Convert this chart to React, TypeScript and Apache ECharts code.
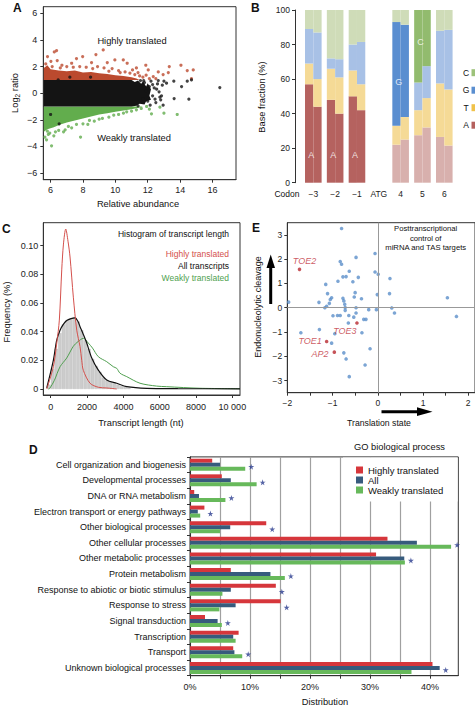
import React, { useEffect, useRef } from "react";
import * as echarts from "echarts";

const FONT = "'Liberation Sans', Arial, Helvetica, sans-serif";

// ---------- Panel A : MA plot ----------
const aBlackBand = [[5.58,-1],[5.58,1],[11.0,1],[11.2,0.85],[11.4,0.95],[11.6,0.7],[11.7,0.9],[11.9,0.5],[12.0,0.75],[12.2,0.3],[12.1,-0.2],[12.2,-0.5],[11.9,-0.6],[11.8,-0.85],[11.5,-0.8],[11.3,-0.95],[11.0,-1]];
const aRedBand = [[5.58,1],[5.58,1.9],[5.8,2.1],[6.0,1.8],[6.5,1.7],[7.0,1.65],[7.5,1.7],[8.0,1.55],[8.5,1.6],[9.0,1.5],[9.5,1.45],[10.0,1.35],[10.5,1.3],[11.0,1.2],[11.3,1.1],[11.5,1.0]];
const aGreenBand = [[5.58,-1],[11.7,-1],[11.5,-1.08],[11.0,-1.2],[10.5,-1.3],[10.0,-1.4],[9.5,-1.5],[9.0,-1.6],[8.5,-1.75],[8.0,-1.9],[7.5,-2.05],[7.0,-2.2],[6.6,-2.35],[6.2,-2.55],[5.8,-2.7],[5.58,-2.9]];
const aRedPoints = [[5.81,2.75],[6.23,3.1],[6.37,3.2],[6.02,2.4],[6.41,2.45],[7.3,2.25],[7.98,2.75],[8.53,2.3],[8.8,2.9],[9.25,3.25],[9.5,2.3],[9.97,2.5],[10.49,2.5],[11.06,1.75],[11.3,1.9],[11.88,2.1],[12.03,1.75],[12.65,1.6],[13.33,2.0],[13.27,1.55],[14.05,2.1],[14.44,1.7],[14.81,1.75],[14.7,1.1],[12.95,1.4],[12.34,1.25],[10.73,2.25],[7.6,2.6],[5.7,2.2],[6.7,2.1],[7.0,2.0],[7.8,2.0],[8.2,1.95],[8.9,2.0],[9.3,1.9],[9.8,1.85],[10.2,1.7],[10.6,1.6],[10.9,1.5],[11.2,1.4],[11.5,1.3],[11.7,1.2],[12.1,1.1],[11.4,1.55],[6.1,2.0],[6.6,1.9],[7.4,1.95],[8.6,1.85],[9.6,1.65],[10.3,1.55],[11.9,1.35],[12.5,1.1]];
const aGreenPoints = [[5.65,-3.3],[5.75,-3.5],[5.86,-3.1],[6.06,-3.95],[5.95,-3.0],[6.3,-2.9],[6.5,-2.8],[6.9,-2.75],[7.3,-2.6],[7.85,-3.3],[8.0,-2.3],[8.3,-2.35],[8.7,-2.1],[9.2,-1.9],[9.6,-1.8],[10.2,-1.6],[10.7,-1.4],[11.3,-1.25],[11.93,-1.0],[12.23,-1.55],[12.75,-1.05],[13.0,-1.5],[13.82,-1.6],[12.1,-1.2],[7.1,-2.5],[7.6,-2.35],[8.4,-2.05],[9.0,-1.95],[9.9,-1.65],[10.5,-1.5],[11.0,-1.35],[11.6,-1.15],[6.2,-3.2],[6.8,-2.9],[5.8,-2.85]];
const aBlackPoints = [[11.6,0.6],[11.7,-0.4],[11.8,0.8],[11.9,0.2],[12.0,-0.6],[12.1,0.5],[12.2,0.9],[12.3,-0.2],[12.4,0.4],[12.5,-0.7],[12.6,0.7],[12.7,0.1],[12.8,-0.5],[12.9,0.6],[13.0,0.9],[12.85,-0.2],[12.65,0.95],[12.45,-0.45],[12.15,-0.9],[11.75,0.95],[13.16,0.75],[13.61,0.9],[14.09,0.5],[13.63,-0.4],[14.54,-0.45],[14.44,0.9],[14.7,1.0],[16.45,0.42],[6.47,1.0],[7.19,1.2],[8.47,1.2],[6.0,-1.6],[6.53,-2.3],[11.4,-0.95],[11.55,0.95],[12.95,-0.9],[12.3,0.65],[12.55,0.3],[12.75,-0.3]];
const aXTicks = [6, 8, 10, 12, 14, 16];
const aYTicks = [-6, -4, -2, 0, 2, 4, 6];

// ---------- Panel B : base fractions ----------
const codons = ["\u22123", "\u22122", "\u22121", "ATG", "4", "5", "6"];
// cumulative tops (A, A+T, A+T+G) for the left and right sub-columns
const bA_L = [57, 48, 50, null, 22, 27.5, 26.5];
const bT_L = [69, 66, 65, null, 33, 42, 57.5];
const bG_L = [89, 72, 80, null, 93, 58, 88];
const bA_R = [44, 40, 42, null, 25, 32, 21.5];
const bT_R = [60, 61, 57, null, 38, 49, 54];
const bG_R = [87, 71.5, 81.5, null, 91.5, 67.5, 88.5];
const bHighlight: Record<string, number[]> = { A: [0, 1, 2], T: [], G: [4], C: [5] };
const bLabelCodon = [0, 1, 2, 4, 5];
const bLabelValue = [16, 16, 16, 58.5, 81.6];
const bLabelText = ["A", "A", "A", "G", "C"];
const bLegend = ["C", "G", "T", "A"];

// ---------- Panel C : transcript length ----------
const cRed = [[-220,0],[143,0.0155],[330,0.032],[473,0.048],[605,0.083],[700,0.101],[826,0.1115],[950,0.103],[1062,0.092],[1244,0.064],[1431,0.041],[1613,0.0295],[1706,0.020],[1794,0.013],[2163,0.004],[2620,0.0012],[3082,0.0007],[3633,0]];
const cAll = [[-220,0.0007],[143,0.020],[330,0.034],[512,0.041],[693,0.045],[880,0.0477],[1117,0.049],[1337,0.0495],[1500,0.047],[1613,0.0434],[1794,0.038],[1981,0.032],[2257,0.0216],[2620,0.0132],[3082,0.0063],[3633,0.004],[4183,0.0016],[5284,0.0004],[7000,0.0002],[10420,0.0001]];
const cGreen = [[-130,0],[-40,0.0007],[200,0.006],[512,0.0155],[880,0.0216],[1244,0.0298],[1500,0.033],[1794,0.0353],[2070,0.032],[2300,0.0285],[2620,0.0225],[3082,0.019],[3446,0.0155],[3633,0.0144],[3814,0.011],[4183,0.0086],[4915,0.004],[5834,0.002],[6384,0.0016],[8218,0.0005],[10420,0.0002]];
const cHistCenters = [-100,100,300,500,700,900,1100,1300,1500,1700,1900,2100,2300,2500,2700,2900,3100,3300,3500,3700,3900,4100,4300];
const cHistValues = [0.003,0.014,0.028,0.039,0.045,0.048,0.049,0.050,0.047,0.041,0.034,0.028,0.021,0.016,0.012,0.008,0.006,0.005,0.004,0.003,0.002,0.0015,0.001];
const cXTicks = [0, 2000, 4000, 6000, 8000, 10000];
const cYTicks = [0, 0.02, 0.04, 0.06, 0.08, 0.1];

// ---------- Panel E : miRNA / TAS targets ----------
const eBlue = [[-0.80,3.26],[-1.97,0.23],[-0.06,2.23],[-0.48,2.07],[-0.83,1.90],[-0.80,1.79],[-0.63,1.50],[-0.06,1.47],[0.01,1.38],[0.27,1.20],[-0.43,1.25],[-0.77,1.27],[-0.70,1.28],[-0.88,1.09],[-0.55,1.07],[-1.15,0.96],[-1.11,0.58],[-0.50,0.62],[0.26,0.58],[-0.01,0.54],[1.54,0.41],[-1.02,0.41],[-1.05,0.34],[-0.77,0.39],[-0.52,0.44],[-0.36,0.37],[-0.75,0.28],[-1.30,0.22],[-1.07,0.18],[-1.13,0.06],[-1.17,0.0],[-0.73,0.14],[-0.72,0.01],[-0.72,-0.11],[-0.48,0.0],[-0.20,-0.08],[-0.03,-0.08],[0.31,-0.01],[0.37,-0.22],[1.74,-0.36],[-0.99,-0.33],[-0.89,-0.32],[-0.83,-0.32],[-0.64,-0.32],[-0.53,-0.39],[-0.48,-0.22],[-0.31,-0.48],[-0.26,-0.48],[-1.70,-1.03],[-1.29,-0.90],[-0.95,-1.07],[-0.35,-1.03],[-0.65,-0.63],[-1.02,-1.46],[-0.75,-1.86],[-0.70,-2.11],[-0.17,-1.69],[-0.28,-2.36],[-0.63,-2.84]];
const eNamed = ["TOE2", "TOE3", "TOE1", "AP2"];
const eNamedX = [-1.73, -0.46, -1.13, -0.96];
const eNamedY = [1.58, -0.63, -1.39, -1.83];
const eXTicks = [-2, -1.5, -1, -0.5, 0, 0.5, 1, 1.5, 2];
const eXLabels = [-2, -1, 0, 1, 2];
const eYTicks = [-3, -2, -1, 0, 1, 2, 3];

// ---------- Panel D : GO biological process ----------
const goCategories = ["Cell organization and biogenesis","Developmental processes","DNA or RNA metabolism","Electron transport or energy pathways","Other biological processes","Other cellular processes","Other metabolic processes","Protein metabolism","Response to abiotic or biotic stimulus","Response to stress","Signal transduction","Transcription","Transport","Unknown biological processes"];
const goHighly = [3.7,5.3,0.7,2.4,12.7,32.9,31.0,6.8,14.3,15.1,2.5,8.1,7.2,40.4];
const goAll = [5.0,6.8,1.5,1.3,6.7,37.8,35.7,13.4,6.8,7.6,4.6,7.2,7.4,41.6];
const goWeakly = [9.2,11.1,5.9,1.7,5.0,43.5,35.8,15.8,5.4,4.9,5.3,7.6,8.7,36.9];
const goSignificant = [1,1,1,1,1,1,1,1,1,1,1,0,1,1];
const dXTicks = [0, 5, 10, 15, 20, 25, 30, 35, 40];
const dXLabels = [0, 10, 20, 30, 40];

const minus = (v: number) => (v < 0 ? "\u2212" + Math.abs(v) : String(v));

const AX = { color: "#333", width: 1 };
const LBL = { fontFamily: FONT, color: "#222" };

function polySeries(data: number[][], color: string, idx: number) {
  return {
    type: "custom",
    xAxisIndex: idx,
    yAxisIndex: idx,
    silent: true,
    data,
    renderItem: (params: any, api: any) => {
      if (params.dataIndex !== 0) return null;
      const pts = data.map((d) => api.coord(d));
      return { type: "polygon", shape: { points: pts }, style: { fill: color } };
    },
  };
}

function txt(text: string, x: number, y: number, o: any = {}) {
  const { rotation, ...style } = o;
  return {
    type: "text",
    x,
    y,
    rotation: rotation || 0,
    z: 10,
    style: {
      text,
      fontFamily: FONT,
      fontSize: 9,
      fill: "#111",
      textAlign: "center",
      textVerticalAlign: "middle",
      ...style,
    },
  };
}

function buildOption() {
  const darkCol: Record<string, string> = { A: "#b5625f", T: "#f2cf72", G: "#5a8ed0", C: "#92bb6e" };
  const lightCol: Record<string, string> = { A: "#d8b0ad", T: "#f5da96", G: "#a8c1e6", C: "#cfdcb8" };
  const colFor = (n: string, i: number) => (bHighlight[n].includes(i) ? darkCol[n] : lightCol[n]);
  const bSeries: any[] = [];
  const sides = [
    { s: "L", A: bA_L, T: bT_L, G: bG_L },
    { s: "R", A: bA_R, T: bT_R, G: bG_R },
  ];
  for (const side of sides) {
    const parts: Record<string, (number | null)[]> = {
      A: side.A,
      T: side.T.map((v, i) => (v == null ? null : v - (side.A[i] as number))),
      G: side.G.map((v, i) => (v == null ? null : v - (side.T[i] as number))),
      C: side.G.map((v) => (v == null ? null : 100 - v)),
    };
    for (const n of ["A", "T", "G", "C"]) {
      bSeries.push({
        type: "bar",
        name: "B" + n + side.s,
        xAxisIndex: 1,
        yAxisIndex: 1,
        stack: side.s,
        barWidth: 8.3,
        barGap: "0%",
        silent: true,
        data: parts[n].map((v, i) => (v == null ? "-" : { value: v, itemStyle: { color: colFor(n, i) } })),
      });
    }
  }

  const dBar = (name: string, data: number[], color: string) => ({
    type: "bar",
    name,
    xAxisIndex: 4,
    yAxisIndex: 4,
    barWidth: 4,
    barGap: "0%",
    silent: true,
    itemStyle: { color },
    data,
  });

  const namedLabel: Record<string, any> = {
    TOE2: { position: "top", distance: 2, offset: [5, 0] },
    TOE3: { position: "bottom", distance: 2, offset: [-12, 0] },
    TOE1: { position: "left", distance: 3, offset: [0, 0] },
    AP2: { position: "left", distance: 4, offset: [0, 2] },
  };

  const starPath = "path://M50,0 L61,35 L98,35 L68,57 L79,91 L50,70 L21,91 L32,57 L2,35 L39,35 Z";

  return {
    animation: false,
    backgroundColor: "#fff",
    textStyle: { fontFamily: FONT },
    grid: [
      { left: 43.3, top: 6.7, width: 192.7, height: 173, show: true, borderColor: "#333", borderWidth: 1 },
      { left: 302.4, top: 10, width: 152.8, height: 172.7 },
      { left: 43.3, top: 222.7, width: 196.7, height: 172.3, show: true, borderColor: "#333", borderWidth: 1 },
      { left: 287.3, top: 222.7, width: 189.2, height: 170, show: true, borderColor: "#333", borderWidth: 1 },
      { left: 190, top: 456.9, width: 268.3, height: 218.8, show: true, borderColor: "#333", borderWidth: 1 },
    ],
    xAxis: [
      {
        gridIndex: 0, type: "value", min: 5.55, max: 17.45,
        axisLine: { show: true, onZero: false, lineStyle: AX },
        axisTick: { show: true, length: 3, lineStyle: AX, customValues: aXTicks },
        axisLabel: { ...LBL, fontSize: 9, margin: 6, customValues: aXTicks },
        splitLine: { show: false },
      },
      {
        gridIndex: 1, type: "category", data: codons,
        axisLine: { show: false }, axisTick: { show: false },
        axisLabel: { ...LBL, fontSize: 8.5, margin: 7, interval: 0 },
      },
      {
        gridIndex: 2, type: "value", min: -410, max: 10420,
        axisLine: { show: true, onZero: false, lineStyle: AX },
        axisTick: { show: true, length: 3, lineStyle: AX, customValues: cXTicks },
        axisLabel: { ...LBL, fontSize: 9, margin: 7, customValues: cXTicks, formatter: (v: number) => (v === 10000 ? "10 000" : String(v)) },
        splitLine: { show: false },
      },
      {
        gridIndex: 3, type: "value", min: -2, max: 2.15,
        axisLine: { show: true, onZero: false, lineStyle: AX },
        axisTick: { show: true, length: 3, lineStyle: AX, customValues: eXTicks },
        axisLabel: { ...LBL, fontSize: 8.5, margin: 6, customValues: eXLabels, formatter: (v: number) => minus(v) },
        splitLine: { show: false },
      },
      {
        gridIndex: 4, type: "value", min: 0, max: 44.7, interval: 5,
        axisLine: { show: true, onZero: false, lineStyle: AX },
        axisTick: { show: true, length: 3, lineStyle: AX, customValues: dXTicks },
        axisLabel: { ...LBL, fontSize: 9, margin: 7, customValues: dXLabels, formatter: (v: number) => v + "%" },
        splitLine: { show: true, lineStyle: { color: "#a0a0a0", width: 1.2 } },
      },
    ],
    yAxis: [
      {
        gridIndex: 0, type: "value", min: -6.5, max: 6.5,
        axisLine: { show: true, onZero: false, lineStyle: AX },
        axisTick: { show: true, length: 3, lineStyle: AX, customValues: aYTicks },
        axisLabel: { ...LBL, fontSize: 9, margin: 6, customValues: aYTicks, formatter: (v: number) => minus(v) },
        splitLine: { show: false },
      },
      {
        gridIndex: 1, type: "value", min: 0, max: 100, interval: 20, offset: 7.4,
        axisLine: { show: true, lineStyle: AX },
        axisTick: { show: true, length: 3, lineStyle: AX },
        axisLabel: { ...LBL, fontSize: 8.5, margin: 5 },
        splitLine: { show: false },
      },
      {
        gridIndex: 2, type: "value", min: -0.0042, max: 0.1159,
        axisLine: { show: true, onZero: false, lineStyle: AX },
        axisTick: { show: true, length: 3, lineStyle: AX, customValues: cYTicks },
        axisLabel: { ...LBL, fontSize: 9, margin: 5, customValues: cYTicks, formatter: (v: number) => (v === 0 ? "0" : v.toFixed(2)) },
        splitLine: { show: false },
      },
      {
        gridIndex: 3, type: "value", min: -3.5, max: 3.5,
        axisLine: { show: true, onZero: false, lineStyle: AX },
        axisTick: { show: true, length: 3, lineStyle: AX, customValues: eYTicks },
        axisLabel: { ...LBL, fontSize: 8.5, margin: 5, customValues: eYTicks, formatter: (v: number) => minus(v) },
        splitLine: { show: false },
      },
      {
        gridIndex: 4, type: "category", inverse: true, data: goCategories,
        axisLine: { show: true, lineStyle: AX },
        axisTick: { show: true, length: 3, lineStyle: AX },
        axisLabel: { ...LBL, color: "#111", fontSize: 9, margin: 4, interval: 0 },
      },
    ],
    legend: {
      data: ["Highly translated", "All", "Weakly translated"],
      orient: "vertical",
      left: 351,
      top: 460,
      itemWidth: 7,
      itemHeight: 7,
      itemGap: 0,
      icon: "rect",
      selectedMode: false,
      textStyle: { fontFamily: FONT, fontSize: 9.5, color: "#111" },
    },
    series: [
      // A
      polySeries(aRedBand, "#bb4a2e", 0),
      polySeries(aGreenBand, "#62ad4d", 0),
      polySeries(aBlackBand, "#141414", 0),
      { type: "scatter", name: "aRed", xAxisIndex: 0, yAxisIndex: 0, symbolSize: 3.2, silent: true, itemStyle: { color: "#bb4a2e" }, data: aRedPoints },
      { type: "scatter", name: "aGreen", xAxisIndex: 0, yAxisIndex: 0, symbolSize: 3.2, silent: true, itemStyle: { color: "#62ad4d" }, data: aGreenPoints },
      { type: "scatter", name: "aBlack", xAxisIndex: 0, yAxisIndex: 0, symbolSize: 3.2, silent: true, itemStyle: { color: "#141414" }, data: aBlackPoints },
      // B
      ...bSeries,
      {
        type: "scatter", name: "bLabels", xAxisIndex: 1, yAxisIndex: 1, symbolSize: 1, silent: true, z: 5,
        itemStyle: { color: "transparent" },
        label: { show: true, position: "inside", color: "#fff", fontSize: 9, fontFamily: FONT, offset: [-2, 0], formatter: (p: any) => p.data[2] },
        data: bLabelCodon.map((c, i) => [c, bLabelValue[i], bLabelText[i]]),
      },
      // C
      {
        type: "bar", name: "cHist", xAxisIndex: 2, yAxisIndex: 2, barWidth: 3.4, silent: true,
        itemStyle: { color: "#cccccc", borderColor: "#bdbdbd", borderWidth: 0.4 },
        data: cHistCenters.map((c, i) => [c, cHistValues[i]]),
      },
      { type: "line", name: "cGreen", xAxisIndex: 2, yAxisIndex: 2, showSymbol: false, smooth: 0.3, silent: true, lineStyle: { color: "#4f9f4f", width: 1 }, data: cGreen },
      { type: "line", name: "cAll", xAxisIndex: 2, yAxisIndex: 2, showSymbol: false, smooth: 0.3, silent: true, lineStyle: { color: "#111", width: 1.2 }, data: cAll },
      { type: "line", name: "cRed", xAxisIndex: 2, yAxisIndex: 2, showSymbol: false, smooth: 0.3, silent: true, lineStyle: { color: "#d4504c", width: 1 }, data: cRed },
      // E
      {
        type: "scatter", name: "eBlue", xAxisIndex: 3, yAxisIndex: 3, symbolSize: 3.6, silent: true,
        itemStyle: { color: "#5b8fc9" },
        data: eBlue,
        markLine: {
          silent: true, symbol: "none", label: { show: false },
          lineStyle: { color: "#999", type: "solid", width: 1 },
          data: [{ xAxis: 0 }, { yAxis: 0 }],
        },
      },
      {
        type: "scatter", name: "eNamed", xAxisIndex: 3, yAxisIndex: 3, symbolSize: 3.6, silent: true,
        itemStyle: { color: "#b8282e" },
        data: eNamed.map((n, i) => ({
          value: [eNamedX[i], eNamedY[i]],
          name: n,
          label: { show: true, formatter: n, color: "#c0303a", fontStyle: "italic", fontSize: 9, fontFamily: FONT, ...namedLabel[n] },
        })),
      },
      // D
      dBar("Highly translated", goHighly, "#d6363b"),
      dBar("All", goAll, "#375b7d"),
      dBar("Weakly translated", goWeakly, "#67b95b"),
      {
        type: "scatter", name: "dStars", xAxisIndex: 4, yAxisIndex: 4, symbol: starPath, symbolSize: 6, symbolOffset: [0, 2], silent: true,
        itemStyle: { color: "#2b3c8e" },
        data: goCategories
          .map((c, i) => (goSignificant[i] ? [Math.max(goHighly[i], goAll[i], goWeakly[i]) + 1.0, c] : null))
          .filter((d) => d !== null),
      },
    ],
    graphic: [
      txt("A", 13, 8, { fontWeight: "bold", fontSize: 12, textAlign: "left" }),
      txt("B", 251, 8, { fontWeight: "bold", fontSize: 12, textAlign: "left" }),
      txt("C", 2, 229, { fontWeight: "bold", fontSize: 12, textAlign: "left" }),
      txt("E", 252, 228, { fontWeight: "bold", fontSize: 12, textAlign: "left" }),
      txt("D", 29, 450, { fontWeight: "bold", fontSize: 12, textAlign: "left" }),
      // A
      txt("Highly translated", 132, 41, { fontSize: 9.3 }),
      txt("Weakly translated", 134, 137.5, { fontSize: 9.3 }),
      {
        type: "text", x: 15, y: 93, rotation: Math.PI / 2, z: 10,
        style: {
          text: "Log{s|2} ratio", fontFamily: FONT, fontSize: 9.3, fill: "#111", textAlign: "center", textVerticalAlign: "middle",
          rich: { s: { fontSize: 6.5, fontFamily: FONT, fill: "#111", padding: [5, 0, 0, 0] } },
        },
      },
      txt("Relative abundance", 138, 203.5, { fontSize: 9.3 }),
      // B
      txt("Base fraction (%)", 262, 97, { fontSize: 9.3, rotation: Math.PI / 2 }),
      txt("Codon", 287, 193.5, { fontSize: 8.5 }),
      ...bLegend.flatMap((n, i) => [
        txt(n, 466, 72.7 + i * 17.5, { fontSize: 8.5 }),
        {
          type: "rect", z: 10,
          shape: { x: 471.5, y: 69.2 + i * 17.5, width: 7, height: 7 },
          style: { fill: ({ C: "#9dc27a", G: "#5b8fd0", T: "#f0c24a", A: "#b5615e" } as any)[n] },
        },
      ]),
      // C
      txt("Histogram of transcript length", 229, 234, { fontSize: 8.5, textAlign: "right" }),
      txt("Highly translated", 229, 253.5, { fontSize: 8.5, textAlign: "right", fill: "#d4504c" }),
      txt("All transcripts", 229, 266, { fontSize: 8.5, textAlign: "right", fill: "#111" }),
      txt("Weakly translated", 229, 278, { fontSize: 8.5, textAlign: "right", fill: "#4f9f4f" }),
      txt("Frequency (%)", 7, 312, { fontSize: 9.3, rotation: Math.PI / 2 }),
      txt("Transcript length (nt)", 141, 423, { fontSize: 9.3 }),
      // E
      txt("Posttranscriptional", 425.7, 228.5, { fontSize: 7.7 }),
      txt("control of", 425.7, 238.3, { fontSize: 7.7 }),
      txt("miRNA and TAS targets", 425.7, 247.8, { fontSize: 7.7 }),
      txt("Endonucleolytic cleavage", 257.5, 307, { fontSize: 9, rotation: Math.PI / 2 }),
      txt("Translation state", 379, 422.7, { fontSize: 8.7 }),
      { type: "line", z: 10, shape: { x1: 270.7, y1: 304, x2: 270.7, y2: 266 }, style: { stroke: "#000", lineWidth: 3 } },
      { type: "polygon", z: 10, shape: { points: [[266.5, 268], [275, 268], [270.7, 254.5]] }, style: { fill: "#000" } },
      { type: "line", z: 10, shape: { x1: 381.5, y1: 411.7, x2: 419, y2: 411.7 }, style: { stroke: "#000", lineWidth: 3 } },
      { type: "polygon", z: 10, shape: { points: [[417, 407.3], [417, 416.1], [432.5, 411.7]] }, style: { fill: "#000" } },
      // D
      txt("GO biological process", 399.5, 447.3, { fontSize: 9.3 }),
      txt("Distribution", 325, 701.5, { fontSize: 9.3 }),
      { type: "rect", z: 3, shape: { x: 343, y: 457.6, width: 114.6, height: 44 }, style: { fill: "#fff" } },
    ],
  };
}

export default function App() {
  const ref = useRef<HTMLDivElement>(null);
  useEffect(() => {
    const chart = echarts.init(ref.current!, null, { renderer: "svg" });
    chart.setOption(buildOption() as any);
    return () => chart.dispose();
  }, []);
  return (
    <div
      ref={ref}
      style={{ position: "absolute", left: 0, top: 0, width: 475, height: 707, background: "#fff" }}
    />
  );
}
